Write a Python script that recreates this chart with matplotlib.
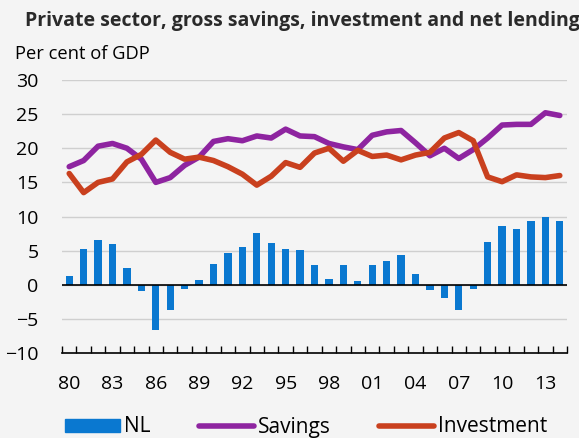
import numpy as np
import matplotlib.pyplot as plt
from matplotlib.patches import Patch
from matplotlib.lines import Line2D

plt.rcParams['font.family'] = ['Open Sans', 'DejaVu Sans']

years = np.arange(1980, 2015)
net_lending = [1.3, 5.2, 6.5, 6.0, 2.4, -0.9, -6.6, -3.7, -0.6, 0.7,
               3.1, 4.7, 5.6, 7.6, 6.1, 5.3, 5.05, 2.95, 0.8, 2.85,
               0.5, 2.85, 3.5, 4.3, 1.6, -0.7, -1.9, -3.7, -0.6, 6.2,
               8.6, 8.2, 9.3, 9.9, 9.3]
savings = [17.3, 18.2, 20.3, 20.7, 20.0, 18.4, 15.0, 15.7, 17.5, 18.7,
           21.0, 21.4, 21.1, 21.8, 21.5, 22.8, 21.8, 21.7, 20.7, 20.2,
           19.8, 21.9, 22.4, 22.6, 20.8, 18.9, 20.0, 18.5, 19.8, 21.5,
           23.4, 23.5, 23.5, 25.2, 24.8]
investment = [16.3, 13.5, 15.0, 15.5, 18.0, 19.1, 21.2, 19.4, 18.4, 18.7,
              18.2, 17.3, 16.2, 14.6, 15.9, 17.9, 17.2, 19.3, 20.0, 18.1,
              19.7, 18.8, 19.0, 18.3, 19.0, 19.4, 21.5, 22.3, 21.1, 15.8,
              15.1, 16.1, 15.8, 15.7, 16.0]

blue = '#0a78d0'
purple = '#8e24a0'
red = '#c9401e'
bg = '#f4f4f4'

fig = plt.figure(figsize=(5.79, 4.38), dpi=100, facecolor=bg)
ax = fig.add_axes([62/579, 1 - 353/438, (567 - 62)/579, (353 - 80)/438])
ax.set_facecolor(bg)

ax.bar(years, net_lending, width=0.5, color=blue, zorder=2)
ax.plot(years, savings, color=purple, lw=4, solid_capstyle='round', zorder=3)
ax.plot(years, investment, color=red, lw=4, solid_capstyle='round', zorder=4)
ax.axhline(0, color='black', lw=1.2, zorder=2.5)

ax.set_xlim(1979.5, 2014.5)
ax.set_ylim(-10, 30)
ax.set_yticks(np.arange(-10, 31, 5))
ax.yaxis.grid(True, color='#cfcfcf', lw=1)
ax.set_axisbelow(True)
for s in ['left', 'right', 'top']:
    ax.spines[s].set_visible(False)
ax.spines['bottom'].set_linewidth(1.2)

ax.tick_params(axis='y', length=0, pad=17, labelsize=14)
ax.set_xticks(years[::3])
ax.set_xticklabels([f'{y % 100:02d}' for y in years[::3]])
ax.tick_params(axis='x', which='major', length=0, pad=16, labelsize=14)
ax.set_xticks(np.arange(1979.5, 2015, 1), minor=True)
ax.tick_params(axis='x', which='minor', direction='in', length=5, width=1)

fig.text(25/579, 1 - 21/438, 'Private sector, gross savings, investment and net lending',
         fontsize=14, fontweight='bold', color='#2a2a2a', va='center')
fig.text(15/579, 1 - 54/438, 'Per cent of GDP', fontsize=13.2, va='center')

handles = [Patch(color=blue), Line2D([], [], color=purple, lw=4, solid_capstyle='round'),
           Line2D([], [], color=red, lw=4, solid_capstyle='round')]
fig.legend(handles, ['NL', 'Savings', 'Investment'], ncol=3, frameon=False,
           loc='center left', bbox_to_anchor=(65/579, 1 - 427/438),
           borderpad=0, borderaxespad=0,
           fontsize=15, handlelength=2.65, handleheight=0.6, columnspacing=2.3,
           handletextpad=0.2)

fig.savefig('out.png', dpi=100, facecolor=bg)
